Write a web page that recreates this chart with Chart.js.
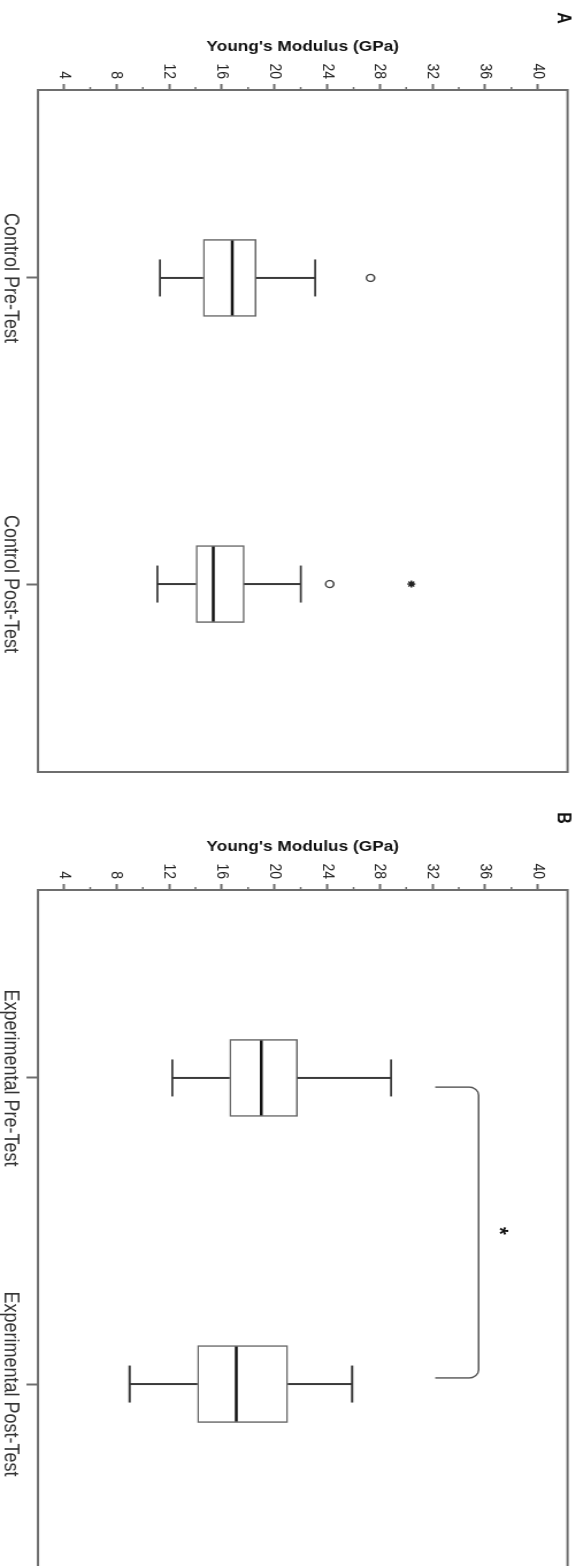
<!DOCTYPE html>
<html>
<head>
<meta charset="utf-8">
<script src="https://cdn.jsdelivr.net/npm/chart.js@4.4.1/dist/chart.umd.min.js"></script>
<style>
  html, body { margin: 0; padding: 0; background: #fff; }
  body { width: 583px; height: 1566px; overflow: hidden; position: relative; }
  .panel { position: absolute; left: 0; width: 583px; height: 800px; overflow: hidden; }
  .panel canvas { position: absolute; left: 0; top: 0; transform-origin: 0 0; }
</style>
</head>
<body>
<div class="panel" style="top:0"><canvas id="chartA"></canvas></div>
<div class="panel" style="top:800px"><canvas id="chartB"></canvas></div>
<script>
// value axis (Young's modulus, GPa)
const valueMin = 2.04;
const valueMax = 42.26;
const majorTicks = [4, 8, 12, 16, 20, 24, 28, 32, 36, 40];
const minorTicks = [6, 10, 14, 18, 22, 26, 30, 34, 38];

// panel A
const groupsA = ['Control Pre-Test', 'Control Post-Test'];
const lowA = [11.3, 11.1];
const q1A = [14.6, 14.05];
const medA = [16.8, 15.35];
const q3A = [18.6, 17.7];
const highA = [23.1, 22.0];
const outlierPosA = [1, 2];
const outlierValA = [27.3, 24.2];
const extremePosA = [2];
const extremeValA = [30.4];

// panel B
const groupsB = ['Experimental Pre-Test', 'Experimental Post-Test'];
const lowB = [12.25, 9.0];
const q1B = [16.6, 14.15];
const medB = [19.0, 17.1];
const q3B = [21.75, 21.0];
const highB = [28.85, 25.9];
const bracketPos = [1.03, 1.98];
const bracketVal = [32.2, 35.5];
const sigPos = 1.5;
const sigVal = 37.6;

// category axis range (group 1 and 2 sit at 1 and 2)
const catMin = 0.386;
const catMax = 2.614;

// the figure was drawn upright and then turned a quarter turn, so the canvas is
// laid out upright (800 wide) and rotated with css; the page is also a bit stretched
const W = 800;
const H = 507;
const S = 583 / H;
const FONT = "'Liberation Sans', Arial, sans-serif";
const BOX = 77;
const CAP = 18.5;

function makePanel(id, letter, p) {
    const canvas = document.getElementById(id);
    canvas.width = W;
    canvas.height = H;
    canvas.style.width = W + 'px';
    canvas.style.height = H + 'px';
    canvas.style.transform = `translate(583px, 0) rotate(90deg) scale(1, ${S})`;

    const parts = {
        id: 'boxParts',
        afterDatasetsDraw(chart) {
            const { ctx, scales: { x, y } } = chart;
            ctx.save();
            p.groups.forEach((g, i) => {
                const cx = x.getPixelForValue(i + 1);
                const yl = y.getPixelForValue(p.low[i]);
                const y1 = y.getPixelForValue(p.q1[i]);
                const ym = y.getPixelForValue(p.med[i]);
                const y3 = y.getPixelForValue(p.q3[i]);
                const yh = y.getPixelForValue(p.high[i]);
                // whiskers
                ctx.strokeStyle = '#3a3a3a';
                ctx.lineWidth = 2;
                ctx.beginPath();
                ctx.moveTo(cx, yl); ctx.lineTo(cx, y1);
                ctx.moveTo(cx, y3); ctx.lineTo(cx, yh);
                ctx.stroke();
                ctx.lineWidth = 1.8;
                ctx.beginPath();
                ctx.moveTo(cx - CAP, yl); ctx.lineTo(cx + CAP, yl);
                ctx.moveTo(cx - CAP, yh); ctx.lineTo(cx + CAP, yh);
                ctx.stroke();
                // median
                ctx.strokeStyle = '#111';
                ctx.lineWidth = 2.6;
                ctx.beginPath();
                ctx.moveTo(cx - BOX / 2 + 1, ym); ctx.lineTo(cx + BOX / 2 - 1, ym);
                ctx.stroke();
            });

            if (p.bracket) {
                const u1 = x.getPixelForValue(bracketPos[0]);
                const u2 = x.getPixelForValue(bracketPos[1]);
                const vFrom = y.getPixelForValue(bracketVal[0]);
                const vTo = y.getPixelForValue(bracketVal[1]);
                ctx.strokeStyle = '#555';
                ctx.lineWidth = 1.4;
                ctx.beginPath();
                ctx.moveTo(u1, vFrom);
                ctx.arcTo(u1, vTo, u2, vTo, 8);
                ctx.arcTo(u2, vTo, u2, vFrom, 8);
                ctx.lineTo(u2, vFrom);
                ctx.stroke();

                ctx.fillStyle = '#111';
                ctx.font = `bold 20px ${FONT}`;
                ctx.textAlign = 'center';
                ctx.textBaseline = 'alphabetic';
                ctx.fillText('*', x.getPixelForValue(sigPos), y.getPixelForValue(sigVal) + 12);
            }
            ctx.restore();
        },
        afterDraw(chart) {
            const { ctx, chartArea: a, scales: { y } } = chart;
            ctx.save();
            ctx.strokeStyle = '#6e6e6e';
            ctx.lineWidth = 2;
            ctx.strokeRect(a.left, a.top, a.right - a.left, a.bottom - a.top);
            // minor ticks on the value axis
            ctx.lineWidth = 1.5;
            ctx.beginPath();
            minorTicks.forEach(v => {
                const py = y.getPixelForValue(v);
                ctx.moveTo(a.left - 3, py);
                ctx.lineTo(a.left, py);
            });
            ctx.stroke();
            // panel letter
            ctx.fillStyle = '#111';
            ctx.font = `bold 16px ${FONT}`;
            ctx.textAlign = 'center';
            ctx.textBaseline = 'middle';
            ctx.fillText(letter, 18, 20 / S);
            ctx.restore();
        }
    };

    const datasets = [
        {
            type: 'bar',
            data: p.groups.map((g, i) => ({ x: i + 1, y: [p.q1[i], p.q3[i]] })),
            backgroundColor: '#ffffff',
            borderColor: '#666',
            borderWidth: 1.5,
            borderSkipped: false,
            barThickness: BOX
        }
    ];
    if (p.outPos) {
        datasets.push({
            type: 'scatter',
            data: p.outPos.map((v, i) => ({ x: v, y: p.outVal[i] })),
            pointStyle: 'circle',
            pointRadius: 3.5,
            backgroundColor: '#fff',
            borderColor: '#444',
            borderWidth: 1.4
        });
        datasets.push({
            type: 'scatter',
            data: p.extPos.map((v, i) => ({ x: v, y: p.extVal[i] })),
            pointStyle: 'star',
            pointRadius: 3.5,
            borderColor: '#222',
            borderWidth: 1.4
        });
    }

    new Chart(canvas, {
        type: 'bar',
        data: { datasets: datasets },
        options: {
            responsive: false,
            animation: false,
            devicePixelRatio: 1,
            layout: { padding: { top: 12 / S, right: 28, left: 0, bottom: 0 } },
            plugins: { legend: { display: false }, tooltip: { enabled: false } },
            scales: {
                x: {
                    type: 'linear',
                    min: catMin,
                    max: catMax,
                    offset: false,
                    afterBuildTicks: s => { s.ticks = p.groups.map((g, i) => ({ value: i + 1 })); },
                    afterFit: s => { s.height = (583 - 545) / S; },
                    ticks: {
                        callback: v => p.groups[v - 1],
                        autoSkip: false,
                        maxRotation: 0,
                        minRotation: 0,
                        padding: 3,
                        color: '#333',
                        font: { family: FONT, size: 18 }
                    },
                    grid: { offset: false, drawOnChartArea: false, tickLength: 10, tickWidth: 2, tickColor: '#6e6e6e' },
                    border: { display: false }
                },
                y: {
                    min: valueMin,
                    max: valueMax,
                    afterBuildTicks: s => { s.ticks = majorTicks.map(v => ({ value: v })); },
                    afterFit: s => { s.width = 90; },
                    ticks: {
                        padding: 5,
                        color: '#222',
                        font: { family: FONT, size: 14 }
                    },
                    grid: { drawOnChartArea: false, tickLength: 6, tickWidth: 2, tickColor: '#6e6e6e' },
                    border: { display: false },
                    title: {
                        display: true,
                        text: "Young's Modulus (GPa)",
                        color: '#111',
                        font: { family: FONT, size: 15, weight: 'bold' },
                        padding: { top: 38, bottom: 0 }
                    }
                }
            }
        },
        plugins: [parts]
    });
}

makePanel('chartA', 'A', {
    groups: groupsA, low: lowA, q1: q1A, med: medA, q3: q3A, high: highA,
    outPos: outlierPosA, outVal: outlierValA, extPos: extremePosA, extVal: extremeValA
});
makePanel('chartB', 'B', {
    groups: groupsB, low: lowB, q1: q1B, med: medB, q3: q3B, high: highB,
    bracket: true
});
</script>
</body>
</html>
